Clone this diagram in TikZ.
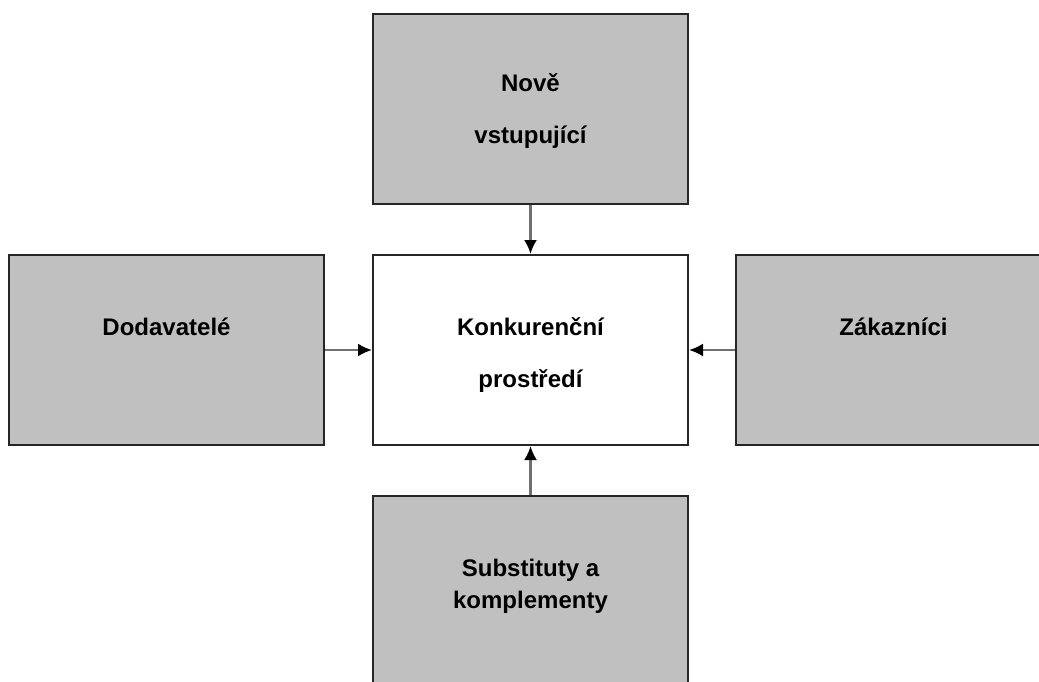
\documentclass[tikz,border=0pt]{standalone}
\usepackage{fontspec}
\setmainfont{Liberation Sans}
\usetikzlibrary{arrows.meta}
\definecolor{boxgray}{HTML}{C0C0C0}
\definecolor{linegray}{HTML}{707070}
\newcommand{\headstrut}[1]{\rule{0pt}{#1}}
\tikzset{
  force/.style={draw=black!85,line width=1pt,fill=boxgray,minimum width=157.5pt,minimum height=95pt,inner sep=0,align=center,font=\bfseries\fontsize{12}{26}\selectfont},
  core/.style={force,fill=white},
  push/.style={draw=linegray,line width=1.2pt,-{Latex[black,length=7pt,width=6.5pt]}}
}
\begin{document}
\begin{tikzpicture}[x=.5pt,y=-.5pt]
    \useasboundingbox(0,0)rectangle(1039,681);
    \node[core](K)at(530.5,350){\headstrut{14pt}Konkurenční\\prostředí};
    \node[force](N)at(530.5,108.5){\headstrut{11pt}Nově\\vstupující};
    \node[force](D)at(166.5,350){\headstrut{11pt}Dodavatelé\\\mbox{}};
    \node[force](Z)at(893.5,350){\headstrut{11pt}Zákazníci\\\mbox{}};
    \node[force,font=\bfseries\fontsize{12}{16}\selectfont](S)at(530.5,591){Substituty a\\komplementy\rule[-7.5pt]{0pt}{7.5pt}};
    \draw[push](N)--(K);
    \draw[push](D)--(K);
    \draw[push](Z)--(K);
    \draw[push](S)--(K);
\end{tikzpicture}
\end{document}
